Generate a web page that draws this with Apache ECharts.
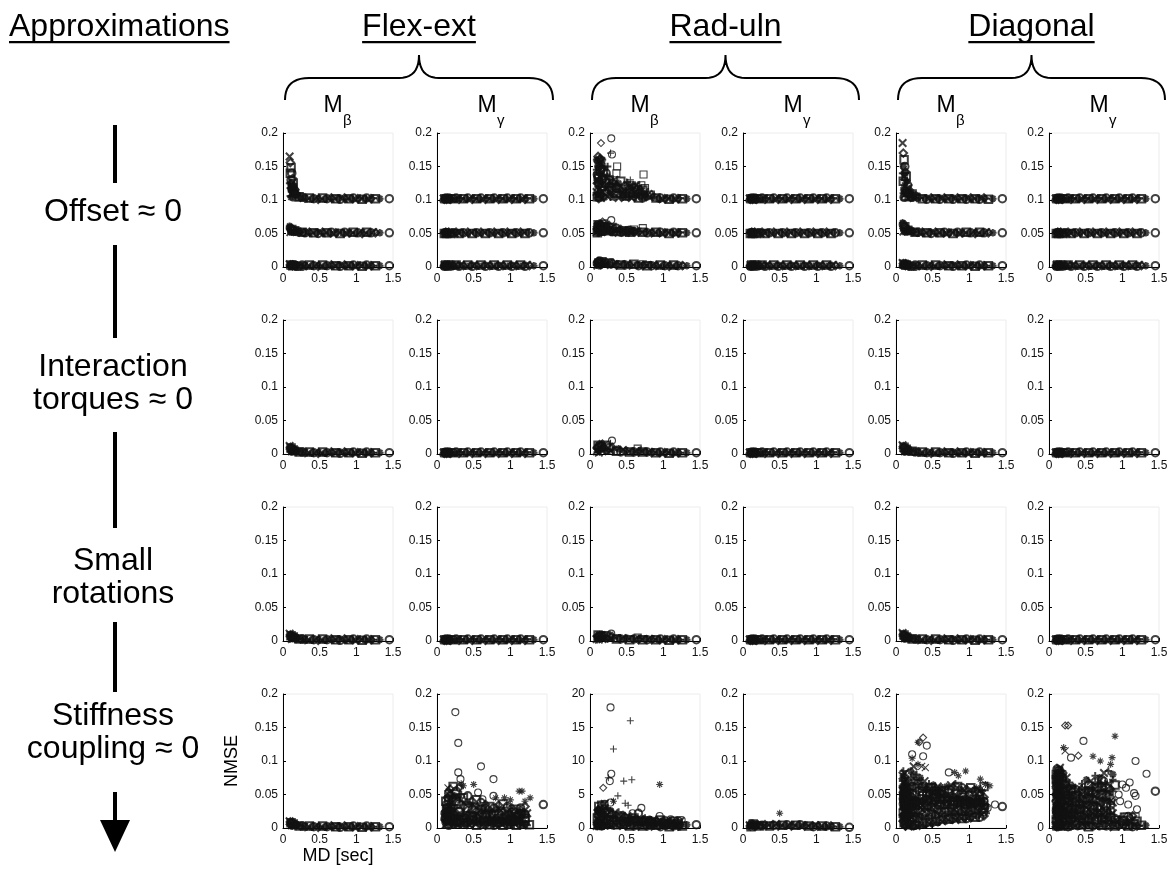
<!DOCTYPE html>
<html>
<head>
<meta charset="utf-8">
<title>NMSE of the approximations</title>
<script src="https://cdn.jsdelivr.net/npm/echarts@6/dist/echarts.min.js"></script>
<style>
  html, body { margin: 0; padding: 0; background: #fff; }
  #main { width: 1173px; height: 875px; }
</style>
</head>
<body>
<div id="main"></div>
<script>
// movement duration of every plotted trial (sec), shared by all panels
var md = [0.09,0.10,0.10,0.11,0.11,0.12,0.12,0.13,0.13,0.14,
          0.15,0.16,0.17,0.18,0.20,0.22,0.24,0.26,0.28,0.30,
          0.33,0.36,0.39,0.42,0.45,0.48,0.51,0.54,0.57,0.60,
          0.63,0.66,0.69,0.72,0.75,0.78,0.81,0.84,0.87,0.90,
          0.93,0.96,0.99,1.02,1.05,1.08,1.11,1.14,1.17,1.20,
          1.23,1.26,1.32,1.45];

// column / row headings
var dofs = ['Flex-ext', 'Rad-uln', 'Diagonal'];
var moments = ['β', 'γ'];
var approxLines = [['Offset ≈ 0'], ['Interaction', 'torques ≈ 0'], ['Small', 'rotations'], ['Stiffness', 'coupling ≈ 0']];
var xTicks = [0, 0.5, 1, 1.5];
var yTicks = [0, 0.05, 0.1, 0.15, 0.2];
var yTicksWide = [0, 5, 10, 15, 20];

// ---- NMSE, one value per trial (null = trial not in that layer) ----
// row 1: offset ~ 0 (three bands)
var feBetaOffHi = [0.165,0.156,0.106,0.148,0.104,0.140,0.109,0.132,0.112,0.125,
  0.118,0.114,0.111,0.109,0.107,0.105,0.104,0.104,0.103,0.103,
  0.102,0.103,0.101,0.102,0.103,0.101,0.102,0.103,0.101,0.102,
  0.102,0.103,0.101,0.102,0.103,0.101,0.102,0.103,0.101,0.102,
  0.102,0.103,0.101,0.102,0.103,0.101,0.102,0.103,0.101,0.102,
  0.103,0.102,0.102,0.102];
var feBetaOffHi2 = [0.125,0.140,0.118,0.130,0.122,0.124,0.116,0.118,0.121,0.112,
  0.110,0.108,0.106,0.105,null,null,null,null,null,null,
  null,null,null,null,null,null,null,null,null,null,
  null,null,null,null,null,null,null,null,null,null,
  null,null,null,null,null,null,null,null,null,null,
  null,null,null,null];
var feBetaOffMid = [0.061,0.058,0.052,0.057,0.053,0.056,0.052,0.055,0.053,0.055,
  0.054,0.054,0.053,0.053,0.053,0.052,0.052,0.052,0.052,0.051,
  0.051,0.052,0.050,0.051,0.052,0.050,0.051,0.052,0.050,0.051,
  0.051,0.052,0.050,0.051,0.052,0.050,0.051,0.052,0.050,0.051,
  0.051,0.052,0.050,0.051,0.052,0.050,0.051,0.052,0.050,0.051,
  0.052,0.051,0.051,0.051];
var feBetaOffLo = [0.004,0.003,0.001,0.003,0.002,0.003,0.001,0.002,0.002,0.002,
  0.002,0.003,0.001,0.002,0.003,0.001,0.002,0.003,0.001,0.002,
  0.002,0.003,0.001,0.002,0.003,0.001,0.002,0.003,0.001,0.002,
  0.002,0.003,0.001,0.002,0.003,0.001,0.002,0.003,0.001,0.002,
  0.002,0.003,0.001,0.002,0.003,0.001,0.002,0.003,0.001,0.002,
  0.002,0.002,0.002,0.002];
var gamOffHi = [0.102,0.101,0.103,0.102,0.101,0.103,0.102,0.101,0.103,0.102,
  0.101,0.103,0.102,0.101,0.103,0.102,0.101,0.103,0.102,0.101,
  0.103,0.102,0.101,0.103,0.102,0.101,0.103,0.102,0.101,0.103,
  0.102,0.101,0.103,0.102,0.101,0.103,0.102,0.101,0.103,0.102,
  0.101,0.103,0.102,0.101,0.103,0.102,0.101,0.103,0.102,0.101,
  0.103,0.102,0.102,0.102];
var gamOffMid = [0.051,0.050,0.052,0.051,0.050,0.052,0.051,0.050,0.052,0.051,
  0.050,0.052,0.051,0.050,0.052,0.051,0.050,0.052,0.051,0.050,
  0.052,0.051,0.050,0.052,0.051,0.050,0.052,0.051,0.050,0.052,
  0.051,0.050,0.052,0.051,0.050,0.052,0.051,0.050,0.052,0.051,
  0.050,0.052,0.051,0.050,0.052,0.051,0.050,0.052,0.051,0.050,
  0.052,0.051,0.051,0.051];
var flatZero = [0.002,0.001,0.003,0.002,0.001,0.003,0.002,0.001,0.003,0.002,
  0.001,0.003,0.002,0.001,0.003,0.002,0.001,0.003,0.002,0.001,
  0.003,0.002,0.001,0.003,0.002,0.001,0.003,0.002,0.001,0.003,
  0.002,0.001,0.003,0.002,0.001,0.003,0.002,0.001,0.003,0.002,
  0.001,0.003,0.002,0.001,0.003,0.002,0.001,0.003,0.002,0.001,
  0.003,0.002,0.002,0.002];
var ruBetaOffHi = [0.112,0.125,0.104,0.135,0.108,0.150,0.115,0.160,0.120,0.145,
  0.155,0.130,0.140,0.118,0.150,0.125,0.135,0.115,0.128,0.112,
  0.120,0.110,0.125,0.108,0.118,0.112,0.126,0.110,0.120,0.118,
  0.122,0.112,0.118,0.115,0.108,0.106,0.104,0.108,0.104,0.103,
  0.102,0.103,0.101,0.102,0.103,0.101,0.102,0.103,0.101,0.102,
  0.103,0.102,0.102,0.102];
var ruBetaOffHi2 = [0.145,0.105,0.158,0.112,0.128,0.102,0.138,0.105,0.152,0.108,
  0.103,0.148,0.108,0.142,0.104,0.140,0.105,0.122,0.104,0.118,
  0.104,0.118,0.103,0.114,0.104,0.106,0.104,0.115,0.103,0.105,
  0.104,0.103,0.105,0.103,0.112,null,null,null,null,null,
  null,null,null,null,null,null,null,null,null,null,
  null,null,null,null];
var ruBetaOffHi3 = [0.160,0.138,0.130,0.165,0.120,0.132,0.148,0.125,0.135,0.162,
  0.128,0.120,0.160,0.132,0.118,0.112,0.150,0.130,0.110,0.125,
  0.130,0.122,0.112,0.128,0.108,0.120,0.106,0.118,0.110,0.112,
  0.108,0.116,0.110,0.105,0.104,null,null,null,null,null,
  null,null,null,null,null,null,null,null,null,null,
  null,null,null,null];
var ruBetaOffMid = [0.052,0.060,0.055,0.063,0.053,0.058,0.062,0.054,0.060,0.057,
  0.064,0.053,0.061,0.056,0.062,0.054,0.060,0.055,0.058,0.053,
  0.057,0.053,0.056,0.052,0.055,0.053,0.054,0.052,0.054,0.053,
  0.053,0.052,0.053,0.052,0.052,0.051,0.052,0.051,0.051,0.052,
  0.051,0.052,0.050,0.051,0.052,0.050,0.051,0.052,0.050,0.051,
  0.052,0.051,0.051,0.051];
var ruBetaOffMid2 = [0.058,0.051,0.064,0.052,0.060,0.052,0.056,0.060,0.052,0.062,
  0.055,0.060,0.052,0.064,0.052,0.060,0.052,0.062,0.052,0.059,
  0.052,0.058,0.051,0.056,0.051,0.054,0.051,0.055,0.051,0.053,
  null,null,null,null,null,null,null,null,null,null,
  null,null,null,null,null,null,null,null,null,null,
  null,null,null,null];
var ruBetaOffLo = [0.003,0.006,0.002,0.008,0.004,0.006,0.002,0.009,0.004,0.007,
  0.003,0.008,0.005,0.006,0.003,0.007,0.004,0.006,0.003,0.005,
  0.004,0.003,0.005,0.003,0.004,0.003,0.004,0.003,0.003,0.004,
  0.003,0.002,0.003,0.002,0.003,0.002,0.003,0.002,0.003,0.002,
  0.002,0.003,0.001,0.002,0.003,0.001,0.002,0.003,0.001,0.002,
  0.002,0.002,0.002,0.002];
var dgBetaOffHi = [0.185,0.170,0.110,0.160,0.118,0.150,0.108,0.142,0.125,0.135,
  0.128,0.122,0.118,0.115,0.112,0.109,0.107,0.106,0.105,0.104,
  0.103,0.102,0.103,0.101,0.102,0.103,0.101,0.102,0.103,0.101,
  0.102,0.103,0.101,0.102,0.103,0.101,0.102,0.103,0.101,0.102,
  0.103,0.101,0.102,0.103,0.101,0.102,0.103,0.101,0.102,0.103,
  0.102,0.101,0.102,0.102];
var dgBetaOffHi2 = [0.140,0.128,0.150,0.104,0.135,0.115,0.130,0.106,0.140,0.112,
  0.110,0.108,0.106,0.105,0.104,0.104,0.103,null,null,null,
  null,null,null,null,null,null,null,null,null,null,
  null,null,null,null,null,null,null,null,null,null,
  null,null,null,null,null,null,null,null,null,null,
  null,null,null,null];
var dgBetaOffMid = [0.066,0.063,0.053,0.061,0.054,0.060,0.052,0.058,0.055,0.057,
  0.056,0.055,0.054,0.054,0.053,0.053,0.052,0.052,0.052,0.052,
  0.051,0.052,0.050,0.051,0.052,0.050,0.051,0.052,0.050,0.051,
  0.051,0.052,0.050,0.051,0.052,0.050,0.051,0.052,0.050,0.051,
  0.051,0.052,0.050,0.051,0.052,0.050,0.051,0.052,0.050,0.051,
  0.052,0.051,0.051,0.051];
var dgBetaOffLo = [0.006,0.005,0.002,0.004,0.002,0.004,0.002,0.003,0.002,0.003,
  0.002,0.003,0.001,0.002,0.003,0.001,0.002,0.003,0.001,0.002,
  0.002,0.003,0.001,0.002,0.003,0.001,0.002,0.003,0.001,0.002,
  0.002,0.003,0.001,0.002,0.003,0.001,0.002,0.003,0.001,0.002,
  0.002,0.003,0.001,0.002,0.003,0.001,0.002,0.003,0.001,0.002,
  0.002,0.002,0.002,0.002];

// row 2: interaction torques ~ 0
var feBetaInter = [0.012,0.010,0.004,0.009,0.003,0.008,0.004,0.007,0.003,0.006,
  0.006,0.005,0.005,0.004,0.004,0.003,0.003,0.003,0.003,0.002,
  0.002,0.003,0.001,0.002,0.003,0.001,0.002,0.003,0.001,0.002,
  0.002,0.003,0.001,0.002,0.003,0.001,0.002,0.003,0.001,0.002,
  0.002,0.003,0.001,0.002,0.003,0.001,0.002,0.003,0.001,0.002,
  0.002,0.002,0.002,0.002];
var ruBetaInter = [0.004,0.010,0.003,0.013,0.006,0.009,0.002,0.014,0.005,0.011,
  0.008,0.012,0.004,0.010,0.006,0.013,0.004,0.009,0.005,0.010,
  0.006,0.004,0.008,0.003,0.006,0.004,0.005,0.003,0.004,0.003,
  0.004,0.003,0.006,0.003,0.004,0.003,0.003,0.002,0.003,0.002,
  0.002,0.003,0.001,0.002,0.003,0.001,0.002,0.003,0.001,0.002,
  0.002,0.002,0.002,0.002];
var dgBetaInter = [0.013,0.011,0.004,0.010,0.003,0.009,0.004,0.008,0.003,0.007,
  0.007,0.006,0.005,0.005,0.004,0.004,0.003,0.003,0.003,0.003,
  0.002,0.003,0.001,0.002,0.003,0.001,0.002,0.003,0.001,0.002,
  0.002,0.003,0.001,0.002,0.003,0.001,0.002,0.003,0.001,0.002,
  0.002,0.003,0.001,0.002,0.003,0.001,0.002,0.003,0.001,0.002,
  0.002,0.002,0.002,0.002];

// row 3: small rotations
var feBetaRot = [0.011,0.009,0.003,0.008,0.004,0.007,0.003,0.006,0.004,0.006,
  0.005,0.005,0.004,0.004,0.003,0.003,0.003,0.003,0.002,0.002,
  0.002,0.003,0.001,0.002,0.003,0.001,0.002,0.003,0.001,0.002,
  0.002,0.003,0.001,0.002,0.003,0.001,0.002,0.003,0.001,0.002,
  0.002,0.003,0.001,0.002,0.003,0.001,0.002,0.003,0.001,0.002,
  0.002,0.002,0.002,0.002];
var ruBetaRot = [0.003,0.007,0.002,0.009,0.004,0.006,0.002,0.008,0.004,0.007,
  0.005,0.008,0.003,0.007,0.004,0.008,0.003,0.006,0.004,0.007,
  0.004,0.003,0.005,0.003,0.004,0.003,0.004,0.002,0.003,0.003,
  0.003,0.002,0.004,0.002,0.003,0.002,0.003,0.002,0.003,0.002,
  0.002,0.003,0.001,0.002,0.003,0.001,0.002,0.003,0.001,0.002,
  0.002,0.002,0.002,0.002];
var dgBetaRot = [0.012,0.010,0.004,0.009,0.003,0.008,0.004,0.007,0.003,0.006,
  0.006,0.005,0.005,0.004,0.004,0.003,0.003,0.003,0.003,0.002,
  0.002,0.003,0.001,0.002,0.003,0.001,0.002,0.003,0.001,0.002,
  0.002,0.003,0.001,0.002,0.003,0.001,0.002,0.003,0.001,0.002,
  0.002,0.003,0.001,0.002,0.003,0.001,0.002,0.003,0.001,0.002,
  0.002,0.002,0.002,0.002];

// row 4: stiffness coupling ~ 0
var feBetaStiff = [0.010,0.009,0.004,0.008,0.003,0.007,0.004,0.006,0.003,0.006,
  0.005,0.005,0.004,0.004,0.004,0.003,0.003,0.003,0.002,0.002,
  0.002,0.003,0.001,0.002,0.003,0.001,0.002,0.003,0.001,0.002,
  0.002,0.003,0.001,0.002,0.003,0.001,0.002,0.003,0.001,0.002,
  0.002,0.003,0.001,0.002,0.003,0.001,0.002,0.003,0.001,0.002,
  0.002,0.002,0.002,0.002];
var feGamStiff1 = [null,null,0.012,null,0.008,0.015,0.005,0.010,0.018,0.006,
  0.012,0.004,0.015,0.008,0.006,0.010,0.004,0.008,0.005,0.007,
  0.004,0.008,0.005,0.009,0.004,0.006,0.008,0.004,0.007,0.005,
  0.006,0.004,0.008,0.005,0.007,0.004,0.006,0.005,0.008,0.004,
  0.006,0.005,0.004,0.007,0.005,0.004,0.006,0.005,0.004,0.006,
  0.004,0.005,null,0.035];
var feGamStiff2 = [null,null,null,0.022,null,0.025,0.018,0.028,0.022,0.030,
  0.020,0.026,0.018,0.024,0.030,0.020,0.026,0.022,0.018,0.024,
  0.020,0.016,0.022,0.018,0.024,0.016,0.020,0.015,0.018,0.022,
  0.016,0.020,0.014,0.018,0.015,0.012,0.016,0.014,0.012,0.015,
  0.012,0.014,0.016,0.012,0.015,0.018,0.014,0.016,0.020,0.014,
  null,null,null,null];
var feGamStiff3 = [null,null,null,null,null,0.040,null,0.035,null,0.045,
  0.032,0.042,0.036,0.048,0.038,0.044,0.034,0.040,0.046,0.036,
  0.042,0.032,0.038,0.030,0.035,0.028,0.033,0.026,0.030,0.028,
  0.025,0.030,0.022,0.026,0.024,0.020,0.028,0.022,0.026,0.024,
  0.020,0.018,0.022,0.024,0.020,0.018,0.026,0.022,0.024,0.020,
  0.022,null,null,null];
var feGamStiff4 = [null,null,null,null,null,null,null,null,null,null,
  null,0.052,null,0.058,0.050,0.062,0.048,0.055,null,0.060,
  0.050,0.045,null,0.048,null,0.040,null,0.042,null,0.038,
  null,0.035,null,0.032,null,0.030,null,0.034,null,0.036,
  null,0.032,null,0.030,null,0.028,null,0.030,null,0.032,
  null,null,null,null];
var feGamStiff5 = [null,null,null,0.014,null,0.020,0.012,0.016,0.026,0.012,
  0.016,0.012,0.022,0.014,0.012,0.016,0.010,0.014,0.012,0.012,
  0.011,0.013,0.010,0.014,0.011,0.012,0.013,0.010,0.012,0.011,
  0.011,0.010,0.012,0.010,0.011,0.009,0.010,0.009,0.011,0.010,
  0.010,0.009,0.011,0.010,0.009,0.011,0.010,0.009,0.010,0.011,
  null,null,null,null];
var ruBetaStiff1 = [0.3,0.5,0.2,0.6,0.4,0.8,0.3,0.5,0.7,0.4,
  0.6,0.3,0.8,0.5,0.4,0.7,0.3,0.6,0.4,0.5,
  0.3,0.5,0.4,0.6,0.3,0.4,0.5,0.3,0.4,0.3,
  0.4,0.3,0.5,0.3,0.4,0.3,0.4,0.3,0.3,0.4,
  0.3,0.2,0.3,0.4,0.3,0.2,0.3,0.3,0.2,0.3,
  0.2,0.3,0.5,0.5];
var ruBetaStiff2 = [null,1.5,null,2.0,1.2,2.6,1.0,1.8,2.2,1.4,
  2.0,1.6,2.4,1.2,1.8,1.4,2.0,1.3,1.6,1.2,
  1.4,1.1,1.3,1.0,1.2,0.9,1.1,1.0,0.9,1.2,
  0.9,1.0,0.8,0.9,1.0,0.8,0.9,0.7,0.8,0.9,
  0.7,0.8,0.6,0.7,0.8,0.6,0.7,0.6,0.5,0.6,
  0.5,null,null,null];
var ruBetaStiff3 = [null,null,null,2.7,null,3.2,null,2.5,null,3.0,
  2.6,3.4,2.2,2.8,3.6,2.4,3.0,2.2,2.6,2.0,
  2.2,1.8,2.4,1.6,2.0,1.5,1.8,1.4,1.6,1.5,
  1.4,2.2,1.3,1.2,1.5,1.1,1.3,1.0,1.2,1.1,
  1.0,1.2,0.9,1.1,1.0,0.9,1.2,1.0,0.8,1.1,
  1.0,null,null,null];
var ruGamStiff = [0.004,0.003,0.005,0.002,0.004,0.006,0.003,0.005,0.004,0.006,
  0.004,0.003,0.005,0.004,0.006,0.003,0.005,0.004,0.003,0.005,
  0.004,0.003,0.005,0.004,0.006,0.003,0.005,0.004,0.003,0.005,
  0.004,0.003,0.005,0.004,0.003,0.005,0.004,0.003,0.004,0.003,
  0.003,0.002,0.004,0.003,0.002,0.003,0.002,0.003,0.002,0.003,
  0.002,0.002,0.002,0.001];
var dgBetaStiff1 = [0.015,0.010,0.020,0.008,0.018,0.005,0.012,0.003,0.010,0.006,
  0.004,0.008,0.002,0.006,0.003,0.005,0.002,0.004,0.003,0.006,
  0.004,0.007,0.005,0.008,0.006,0.009,0.007,0.010,0.008,0.012,
  0.010,0.012,0.011,0.013,0.012,0.014,0.012,0.015,0.013,0.014,
  0.015,0.014,0.016,0.015,0.017,0.016,0.018,0.016,0.020,0.018,
  0.022,null,null,null];
var dgBetaStiff2 = [0.028,0.022,0.032,0.018,0.026,0.020,0.030,0.016,0.024,0.018,
  0.020,0.015,0.022,0.016,0.018,0.014,0.020,0.016,0.018,0.015,
  0.018,0.020,0.016,0.022,0.018,0.020,0.022,0.019,0.021,0.023,
  0.022,0.024,0.021,0.025,0.023,0.024,0.022,0.026,0.024,0.025,
  0.024,0.026,0.025,0.027,0.026,0.028,0.026,0.030,0.028,0.030,
  0.032,null,null,0.032];
var dgBetaStiff3 = [0.042,0.036,0.048,0.030,0.040,0.034,0.045,0.028,0.038,0.032,
  0.030,0.026,0.034,0.028,0.032,0.026,0.030,0.028,0.032,0.027,
  0.030,0.033,0.028,0.034,0.030,0.032,0.034,0.031,0.033,0.035,
  0.033,0.035,0.032,0.036,0.034,0.035,0.033,0.037,0.035,0.036,
  0.034,0.036,0.035,0.037,0.034,0.036,0.035,0.038,0.036,0.034,
  null,null,null,null];
var dgBetaStiff4 = [0.058,0.050,0.065,0.045,0.055,0.048,0.062,0.042,0.052,0.046,
  0.044,0.038,0.048,0.040,0.046,0.038,0.044,0.040,0.046,0.040,
  0.044,0.048,0.042,0.050,0.045,0.048,0.050,0.046,0.049,0.052,
  0.048,0.050,0.046,0.052,0.048,0.045,0.050,0.044,0.047,0.046,
  0.044,0.042,0.046,0.040,0.044,0.042,0.045,0.048,0.040,0.046,
  null,null,null,null];
var dgBetaStiff5 = [0.070,null,0.078,null,0.068,null,0.075,null,0.066,null,
  0.060,0.055,0.072,0.058,0.085,0.062,0.092,0.070,0.080,0.066,
  0.075,0.062,0.070,0.058,0.066,0.060,0.064,0.056,0.062,0.058,
  0.060,0.056,0.062,0.058,0.064,0.060,0.066,0.062,0.058,0.060,
  0.056,0.058,0.054,0.060,0.056,0.055,0.058,0.052,0.056,0.062,
  null,null,null,null];
var dgBetaStiff6 = [0.050,0.044,0.056,0.038,0.048,0.040,0.054,0.036,0.046,0.040,
  0.037,0.032,0.041,0.034,0.039,0.032,0.037,0.034,0.039,0.034,
  0.037,0.040,0.035,0.042,0.038,0.040,0.042,0.039,0.041,0.043,
  0.041,0.043,0.039,0.044,0.041,0.040,0.042,0.040,0.041,0.041,
  0.039,0.039,0.041,0.038,0.040,0.039,0.040,0.043,0.038,0.040,
  null,null,null,null];
var dgBetaStiff7 = [0.078,0.060,0.085,0.055,0.072,0.058,0.082,0.052,0.068,0.056,
  0.052,0.048,0.062,0.050,0.075,0.052,0.080,0.060,0.070,0.056,
  0.065,0.055,0.060,0.052,0.058,0.054,0.056,0.050,0.055,0.052,
  null,null,null,null,null,null,null,null,null,null,
  null,null,null,null,null,null,null,null,null,null,
  null,null,null,null];
var dgGamStiff1 = [0.004,0.002,0.006,0.003,0.005,0.002,0.004,0.006,0.003,0.005,
  0.003,0.005,0.002,0.004,0.006,0.003,0.005,0.002,0.004,0.003,
  0.003,0.005,0.002,0.004,0.006,0.003,0.005,0.002,0.004,0.003,
  0.003,0.005,0.002,0.004,0.006,0.003,0.005,0.002,0.004,0.003,
  0.003,0.005,0.002,0.004,0.005,0.003,0.004,0.002,0.004,0.003,
  0.003,0.004,0.004,0.055];
var dgGamStiff2 = [0.015,0.012,0.020,0.010,0.025,0.014,0.018,0.022,0.012,0.016,
  0.020,0.014,0.018,0.012,0.016,0.015,0.012,0.014,0.010,0.013,
  0.012,0.010,0.014,0.011,0.013,0.012,0.010,0.014,0.012,0.017,
  0.015,0.012,0.017,0.014,0.016,0.012,0.014,0.016,0.012,0.014,
  0.010,0.012,0.017,0.011,0.009,0.017,0.010,0.018,0.012,0.010,
  null,null,null,null];
var dgGamStiff3 = [0.030,0.040,0.028,0.035,0.045,0.032,0.038,0.028,0.042,0.034,
  0.030,0.036,0.028,0.040,0.026,0.034,0.024,0.030,0.026,0.028,
  0.025,0.030,0.022,0.028,0.032,0.026,0.030,0.034,0.028,0.032,
  0.036,0.030,0.034,0.038,0.032,0.036,0.040,0.034,0.038,null,
  null,null,null,null,null,null,null,null,null,null,
  null,null,null,null];
var dgGamStiff4 = [0.055,0.062,0.050,0.068,0.058,0.072,0.052,0.065,0.060,0.075,
  0.058,0.068,0.050,0.062,0.045,0.055,0.042,0.050,0.040,0.046,
  0.040,0.048,0.038,0.044,0.050,0.042,0.048,0.055,0.046,0.052,
  0.058,0.050,0.056,0.062,0.054,0.060,0.066,0.058,0.072,0.064,
  null,null,null,null,null,null,null,null,null,null,
  null,null,null,null];
var dgGamStiff5 = [null,0.080,null,0.088,null,0.078,null,0.085,null,0.082,
  0.090,0.075,0.085,0.070,0.082,0.065,0.075,0.060,0.068,0.058,
  0.062,null,0.058,null,0.066,null,0.072,null,0.070,null,
  0.078,null,0.075,null,0.082,null,0.085,null,0.080,null,
  null,null,null,null,null,null,null,null,null,null,
  null,null,null,null];
var dgGamStiff6 = [0.022,0.026,0.020,0.028,0.024,0.030,0.022,0.026,0.024,0.028,
  0.025,0.022,0.026,0.020,0.024,0.022,0.020,0.022,0.018,0.021,
  0.020,0.018,0.022,0.019,0.022,0.020,0.018,0.022,0.020,0.024,
  0.024,0.022,0.026,0.024,0.025,0.022,0.024,0.026,0.022,null,
  null,null,null,null,null,null,null,null,null,null,
  null,null,null,null];
var dgGamStiff7 = [0.045,0.050,0.042,0.052,0.048,0.055,0.044,0.050,0.048,0.056,
  0.044,0.050,0.040,0.048,0.036,0.044,0.034,0.040,0.034,0.038,
  0.033,0.039,0.030,0.036,0.041,0.034,0.039,0.045,0.037,0.042,
  0.047,0.040,0.045,0.050,0.043,0.048,0.053,0.046,0.055,null,
  null,null,null,null,null,null,null,null,null,null,
  null,null,null,null];
var dgGamStiff8 = [0.068,0.072,0.064,0.078,0.070,0.082,0.066,0.075,0.072,0.086,
  0.070,0.080,0.062,0.074,0.056,0.066,0.052,0.060,0.050,0.054,
  0.050,0.058,0.048,0.054,0.060,0.052,0.058,0.064,0.056,0.062,
  0.068,0.060,0.066,0.072,0.064,null,null,null,null,null,
  null,null,null,null,null,null,null,null,null,null,
  null,null,null,null];

// isolated trials: [MD, NMSE, marker]
var ruOffOut = [[0.15,0.185,'d'],[0.29,0.192,'o'],[0.28,0.170,'+'],[0.30,0.168,'o'],[0.37,0.150,'s'],
  [0.36,0.140,'s'],[0.55,0.130,'+'],[0.50,0.127,'+'],[0.73,0.138,'s'],[0.57,0.122,'s'],[0.63,0.120,'s'],
  [0.70,0.122,'s'],[0.75,0.118,'s'],[0.83,0.108,'s'],[0.17,0.068,'d'],[0.29,0.070,'o'],[0.72,0.058,'s'],
  [0.60,0.056,'s'],[0.17,0.006,'d'],[0.29,0.007,'o'],[0.72,0.004,'s']];
var ruInterOut = [[0.30,0.020,'o'],[0.28,0.016,'+'],[0.17,0.016,'d'],[0.65,0.008,'s'],[0.20,0.014,'x']];
var ruRotOut = [[0.29,0.011,'o'],[0.20,0.009,'d'],[0.65,0.005,'s']];
var feGamStiffOut = [[0.25,0.173,'o'],[0.29,0.127,'o'],[0.29,0.083,'o'],[0.32,0.073,'o'],[0.60,0.092,'o'],
  [0.77,0.073,'o'],[0.77,0.048,'o'],[0.56,0.053,'o'],[0.62,0.043,'o'],[0.15,0.060,'x'],[0.15,0.051,'x'],
  [0.33,0.066,'*'],[0.36,0.063,'*'],[0.50,0.065,'*'],[0.80,0.045,'*'],[0.92,0.045,'*'],[1.00,0.042,'*'],
  [1.12,0.055,'*'],[1.16,0.055,'*'],[1.20,0.040,'*'],[1.27,0.045,'*'],[1.20,0.022,'o'],[1.15,0.022,'o'],
  [0.95,0.030,'o'],[1.05,0.025,'o'],[0.80,0.007,'s']];
var ruStiffOut = [[0.28,18,'o'],[0.55,16,'+'],[0.32,11.8,'+'],[0.29,8.1,'o'],[0.27,7.0,'o'],[0.25,7.5,'+'],
  [0.18,6.0,'d'],[0.46,7.0,'+'],[0.57,7.2,'+'],[0.95,6.5,'*'],[0.38,4.8,'+'],[0.48,3.7,'+'],[0.52,3.4,'+'],
  [0.32,4.0,'*'],[0.70,3.0,'o'],[0.20,3.6,'o'],[0.12,2.7,'d'],[0.95,1.8,'o'],[1.10,1.3,'o'],[1.25,1.2,'o'],
  [0.28,3.8,'o'],[0.58,2.2,'o']];
var ruGamStiffOut = [[0.50,0.022,'*']];
var dgStiffOut = [[0.37,0.135,'d'],[0.32,0.128,'d'],[0.30,0.128,'*'],[0.42,0.123,'o'],[0.37,0.107,'o'],
  [0.22,0.110,'o'],[0.22,0.104,'*'],[0.30,0.095,'*'],[0.35,0.092,'x'],[0.40,0.090,'x'],[0.15,0.068,'d'],
  [0.95,0.085,'*'],[0.72,0.083,'o'],[0.80,0.083,'*'],[0.85,0.078,'*'],[1.15,0.073,'*'],[1.28,0.063,'*'],
  [1.22,0.065,'*'],[1.10,0.060,'*'],[1.18,0.055,'*'],[1.35,0.035,'o'],[1.20,0.040,'o'],[1.20,0.024,'o'],
  [1.25,0.030,'o'],[0.92,0.047,'o'],[0.80,0.020,'s'],[0.95,0.018,'s']];
var dgGamStiffOut = [[0.22,0.153,'d'],[0.26,0.153,'d'],[0.47,0.130,'o'],[0.90,0.137,'*'],[0.20,0.120,'*'],
  [0.22,0.115,'x'],[0.30,0.105,'o'],[0.40,0.108,'d'],[0.60,0.107,'*'],[0.70,0.100,'*'],[0.86,0.105,'*'],
  [0.84,0.095,'*'],[1.18,0.100,'o'],[1.33,0.081,'o'],[1.10,0.068,'o'],[1.05,0.060,'o'],[1.16,0.052,'o'],
  [1.18,0.048,'o'],[1.00,0.065,'o'],[0.95,0.050,'o'],[0.97,0.040,'o'],[1.08,0.035,'o'],[1.20,0.028,'o'],
  [1.10,0.015,'o'],[0.85,0.040,'o'],[0.75,0.070,'o'],[0.62,0.017,'s'],[0.72,0.016,'s'],[0.75,0.013,'s'],
  [1.02,0.017,'s'],[1.06,0.017,'s'],[1.18,0.017,'s'],[0.90,0.012,'s']];

var panelLayers = [
  [[feBetaOffHi, feBetaOffHi2, feBetaOffMid, feBetaOffLo], [gamOffHi, gamOffMid, flatZero],
   [ruBetaOffHi, ruBetaOffHi2, ruBetaOffHi3, ruBetaOffMid, ruBetaOffMid2, ruBetaOffLo], [gamOffHi, gamOffMid, flatZero],
   [dgBetaOffHi, dgBetaOffHi2, dgBetaOffMid, dgBetaOffLo], [gamOffHi, gamOffMid, flatZero]],
  [[feBetaInter], [flatZero], [ruBetaInter], [flatZero], [dgBetaInter], [flatZero]],
  [[feBetaRot], [flatZero], [ruBetaRot], [flatZero], [dgBetaRot], [flatZero]],
  [[feBetaStiff], [feGamStiff1, feGamStiff2, feGamStiff3, feGamStiff4, feGamStiff5],
   [ruBetaStiff1, ruBetaStiff2, ruBetaStiff3], [ruGamStiff],
   [dgBetaStiff1, dgBetaStiff2, dgBetaStiff3, dgBetaStiff4, dgBetaStiff5, dgBetaStiff6, dgBetaStiff7],
   [dgGamStiff1, dgGamStiff2, dgGamStiff3, dgGamStiff4, dgGamStiff5, dgGamStiff6, dgGamStiff7, dgGamStiff8]]
];
var panelOutliers = [
  [[], [], ruOffOut, [], [], []],
  [[], [], ruInterOut, [], [], []],
  [[], [], ruRotOut, [], [], []],
  [[], feGamStiffOut, ruStiffOut, ruGamStiffOut, dgStiffOut, dgGamStiffOut]
];

// ---- layout ----
var colX = [283, 437, 590, 743, 896, 1049];
var rowY = [133, 320, 507, 694];
var panelW = 110, panelH = 134;
var FONT = '"Liberation Sans", Arial, Helvetica, sans-serif';
var INK = '#111111';

var markCycle = ['x', 'd', '+', 's', '*', 'o'];
var markPath = {
  'x': 'path://M0,0L10,10M10,0L0,10',
  '+': 'path://M5,0L5,10M0,5L10,5',
  '*': 'path://M5,0L5,10M0,5L10,5M1.5,1.5L8.5,8.5M8.5,1.5L1.5,8.5',
  'o': 'path://M10,5A5,5,0,1,1,0,5A5,5,0,1,1,10,5Z',
  's': 'path://M0,0L10,0L10,10L0,10Z',
  'd': 'path://M5,0L10,5L5,10L0,5Z'
};

function layerPoints(vals, shift) {
  var pts = [];
  for (var i = 0; i < md.length; i++) {
    if (vals[i] == null) continue;
    var m = i === 52 ? '*' : (i === 53 ? 'o' : markCycle[(i + shift) % 6]);
    pts.push({ value: [md[i], vals[i]], symbol: markPath[m] });
  }
  return pts;
}

var grids = [], xAxes = [], yAxes = [], series = [];
for (var r = 0; r < 4; r++) {
  for (var c = 0; c < 6; c++) {
    var k = grids.length;
    var wide = (r === 3 && c === 2);
    var yt = wide ? yTicksWide : yTicks;
    grids.push({ left: colX[c], top: rowY[r], width: panelW, height: panelH,
      show: true, borderColor: '#ececec', borderWidth: 1 });
    xAxes.push({
      gridIndex: k, type: 'value', min: xTicks[0], max: xTicks[xTicks.length - 1], interval: 0.5,
      axisLine: { show: true, onZero: false, lineStyle: { color: '#000', width: 1 } },
      axisTick: { show: true, inside: true, length: 3, lineStyle: { color: '#000' } },
      splitLine: { show: false },
      axisLabel: { color: '#111', fontSize: 12, fontFamily: FONT, margin: 6 },
      name: (r === 3 && c === 0) ? 'MD [sec]' : '',
      nameLocation: 'middle', nameGap: 18,
      nameTextStyle: { fontSize: 18, fontFamily: FONT, color: '#000' }
    });
    yAxes.push({
      gridIndex: k, type: 'value', min: yt[0], max: yt[yt.length - 1], interval: yt[1] - yt[0],
      axisLine: { show: true, onZero: false, lineStyle: { color: '#000', width: 1 } },
      axisTick: { show: true, inside: true, length: 3, lineStyle: { color: '#000' } },
      splitLine: { show: false },
      axisLabel: { color: '#111', fontSize: 12, fontFamily: FONT, margin: 5 },
      name: (r === 3 && c === 0) ? 'NMSE' : '',
      nameLocation: 'middle', nameGap: 42, nameRotate: 90,
      nameTextStyle: { fontSize: 18, fontFamily: FONT, color: '#000' }
    });
    var layers = panelLayers[r][c];
    for (var l = 0; l < layers.length; l++) {
      series.push({
        type: 'scatter', xAxisIndex: k, yAxisIndex: k, symbolSize: 7.5, silent: true,
        itemStyle: { color: 'none', borderColor: INK, borderWidth: 2 },
        data: layerPoints(layers[l], l * 2)
      });
    }
    var outs = panelOutliers[r][c];
    if (outs.length) {
      series.push({
        type: 'scatter', xAxisIndex: k, yAxisIndex: k, symbolSize: 7, silent: true,
        itemStyle: { color: 'none', borderColor: INK, borderWidth: 1.1 },
        data: outs.map(function (p) { return { value: [p[0], p[1]], symbol: markPath[p[2]] }; })
      });
    }
  }
}

// ---- headings, braces and the approximation arrow ----
var measure = document.createElement('canvas').getContext('2d');
function textWidth(txt, size) {
  measure.font = size + 'px ' + FONT;
  return measure.measureText(txt).width;
}
var graphics = [];
function addText(txt, x, y, size, align) {
  graphics.push({ type: 'text', x: x, y: y, silent: true,
    style: { text: txt, font: size + 'px ' + FONT, fill: '#000', align: align || 'center', verticalAlign: 'middle' } });
}
function addRect(x, y, w, h) {
  graphics.push({ type: 'rect', silent: true, shape: { x: x, y: y, width: w, height: h }, style: { fill: '#000' } });
}
function quad(p0, p1, p2, pts) {
  for (var t = 0; t <= 1.0001; t += 0.1) {
    var a = (1 - t) * (1 - t), b = 2 * (1 - t) * t, d = t * t;
    pts.push([a * p0[0] + b * p1[0] + d * p2[0], a * p0[1] + b * p1[1] + d * p2[1]]);
  }
}

var TITLE = 32;
addText('Approximations', 9, 27, TITLE, 'left');
addRect(9, 41, textWidth('Approximations', TITLE), 2.2);

var yEnd = 100, yMid = 78, yTop = 55;
for (var g = 0; g < 3; g++) {
  var xL = colX[2 * g] + 2, xR = colX[2 * g + 1] + panelW + 6, cx = (xL + xR) / 2;
  addText(dofs[g], cx, 27, TITLE);
  var w = textWidth(dofs[g], TITLE);
  addRect(cx - w / 2, 41, w, 2.2);
  var pts = [];
  quad([xL, yEnd], [xL, yMid], [xL + 24, yMid], pts);
  quad([cx - 20, yMid], [cx, yMid], [cx, yTop], pts);
  quad([cx, yTop], [cx, yMid], [cx + 20, yMid], pts);
  quad([xR - 24, yMid], [xR, yMid], [xR, yEnd], pts);
  graphics.push({ type: 'polyline', silent: true, shape: { points: pts },
    style: { stroke: '#000', lineWidth: 2, fill: null } });
  for (var m = 0; m < 2; m++) {
    var pc = colX[2 * g + m] + panelW / 2;
    addText('M', pc - 5, 106, 23);
    addText(moments[m], pc + 5, 121, 15, 'left');
  }
}

var rowTextY = [[212], [367, 400], [561, 594], [716, 749]];
for (var a = 0; a < approxLines.length; a++) {
  for (var j = 0; j < approxLines[a].length; j++) {
    addText(approxLines[a][j], 113, rowTextY[a][j], TITLE);
  }
}
var bars = [[125, 183], [245, 338], [432, 528], [622, 692], [792, 822]];
bars.forEach(function (b) { addRect(113, b[0], 4, b[1] - b[0]); });
graphics.push({ type: 'polygon', silent: true, shape: { points: [[100, 820], [130, 820], [115, 852]] },
  style: { fill: '#000' } });

var chart = echarts.init(document.getElementById('main'), null, { renderer: 'canvas' });
chart.setOption({
  animation: false,
  backgroundColor: '#fff',
  textStyle: { fontFamily: FONT },
  grid: grids,
  xAxis: xAxes,
  yAxis: yAxes,
  series: series,
  graphic: { elements: graphics }
});
</script>
</body>
</html>
